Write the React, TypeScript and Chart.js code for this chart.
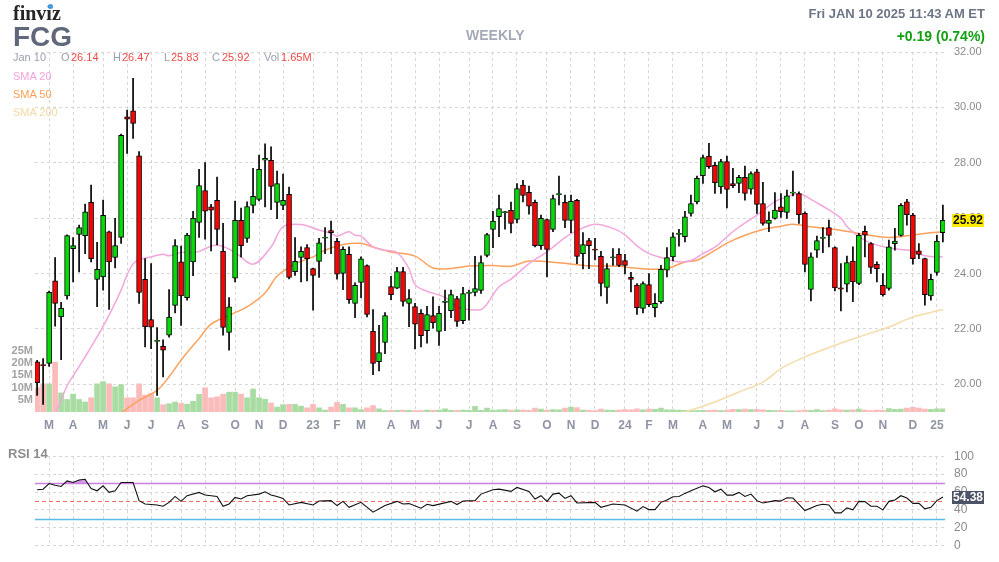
import React, { useEffect, useRef } from "react";
import { Chart, registerables } from "chart.js";

Chart.register(...registerables);

const FONT = '"Liberation Sans", Arial, Helvetica, sans-serif';

// ---- weekly candles (week index 0 = Feb 14 2022 ... 151 = Jan 6 2025) ----
const opens = [
  20.81, 20.71, 20.75, 23.74, 22.43, 23.19, 24.90, 25.41, 25.37, 26.57,
  23.79, 23.88, 25.51, 24.58, 25.30, 29.66, 29.88, 28.25, 23.79, 22.34,
  21.55, 21.37, 21.77, 22.85, 24.42, 23.13, 24.42, 25.85, 27.00, 26.41,
  26.64, 24.80, 21.87, 23.83, 25.92, 25.27, 26.46, 26.68, 28.09, 28.09,
  26.57, 26.46, 26.86, 24.07, 24.58, 24.94, 24.18, 24.44, 25.28, 25.55,
  25.16, 24.00, 24.69, 22.92, 23.68, 24.29, 21.91, 20.82, 21.51, 23.53,
  23.47, 24.07, 22.92, 22.81, 22.56, 21.94, 22.48, 21.91, 22.96, 22.66,
  23.10, 22.30, 23.28, 23.32, 23.39, 24.65, 25.59, 26.05, 26.20, 26.28,
  25.95, 27.19, 26.93, 26.57, 25.01, 25.95, 25.59, 26.85, 26.57, 25.92,
  26.64, 24.72, 25.19, 24.88, 24.62, 23.50, 24.56, 24.69, 24.47, 23.86,
  23.58, 22.74, 23.60, 22.77, 22.98, 24.12, 24.60, 25.41, 25.33, 26.17,
  26.59, 27.53, 28.24, 27.91, 27.13, 28.04, 27.25, 27.25, 27.47, 27.05,
  27.67, 26.53, 25.81, 25.99, 26.41, 26.21, 26.90, 26.89, 26.17, 23.43,
  24.84, 25.27, 25.66, 24.94, 23.48, 23.62, 24.45, 23.64, 25.52, 25.08,
  24.33, 23.57, 23.46, 25.08, 25.38, 26.59, 26.11, 24.82, 24.54, 23.19,
  24.04, 25.48,
];
const highs = [
  20.87, 20.93, 23.37, 24.58, 22.96, 25.40, 25.30, 25.75, 26.51, 27.19,
  25.13, 26.65, 25.53, 25.99, 29.04, 29.90, 31.05, 28.40, 24.54, 24.36,
  22.05, 21.61, 23.42, 25.23, 24.99, 25.45, 26.25, 27.76, 28.01, 26.50,
  27.48, 25.81, 23.13, 26.62, 26.36, 26.59, 27.80, 28.28, 28.68, 28.58,
  27.70, 27.59, 27.12, 25.30, 24.96, 25.05, 24.20, 25.27, 25.66, 25.89,
  25.27, 24.96, 24.96, 23.66, 24.60, 24.31, 22.70, 22.13, 22.59, 23.90,
  24.22, 24.22, 23.42, 22.92, 22.70, 22.82, 23.16, 22.82, 23.40, 23.40,
  23.18, 23.50, 23.40, 24.62, 24.64, 25.45, 26.25, 26.83, 26.25, 26.58,
  27.25, 27.37, 27.16, 26.65, 26.11, 25.97, 26.83, 27.52, 26.83, 26.83,
  26.68, 25.48, 25.27, 25.27, 24.80, 24.36, 24.90, 24.90, 24.69, 24.04,
  23.64, 23.70, 24.00, 23.28, 24.30, 24.94, 25.47, 25.60, 26.25, 26.83,
  27.52, 28.28, 28.70, 28.02, 28.12, 28.24, 27.80, 27.55, 27.88, 27.67,
  27.76, 27.29, 26.23, 26.92, 26.89, 27.01, 27.70, 26.95, 26.23, 24.75,
  25.35, 25.66, 25.93, 24.96, 24.36, 24.63, 24.96, 25.45, 25.71, 25.12,
  24.42, 24.00, 25.21, 25.63, 26.53, 26.68, 26.17, 25.08, 24.56, 23.97,
  25.38, 26.47,
];
const lows = [
  19.60, 19.27, 20.65, 22.10, 20.89, 23.07, 23.70, 24.06, 24.72, 24.42,
  22.80, 23.40, 22.70, 24.20, 25.09, 28.34, 28.88, 22.92, 21.35, 21.29,
  19.60, 20.27, 21.70, 22.58, 22.13, 23.04, 23.92, 25.30, 25.24, 24.82,
  25.03, 21.77, 21.23, 23.70, 24.60, 25.12, 26.19, 26.62, 26.41, 26.31,
  25.98, 26.31, 23.81, 23.93, 23.70, 23.73, 22.68, 23.86, 24.72, 24.72,
  23.80, 23.42, 22.92, 22.41, 23.13, 22.43, 20.35, 20.48, 21.11, 23.06,
  23.45, 22.82, 22.08, 21.28, 21.35, 21.49, 22.03, 21.40, 21.94, 22.41,
  22.09, 22.19, 22.32, 23.19, 23.28, 24.60, 24.93, 25.33, 25.60, 25.47,
  25.83, 26.59, 26.14, 24.96, 24.87, 23.88, 25.51, 26.48, 25.66, 25.48,
  24.36, 24.17, 24.18, 24.49, 23.19, 22.92, 24.29, 24.25, 23.99, 23.34,
  22.52, 22.58, 22.80, 22.43, 22.92, 23.88, 24.46, 24.99, 25.14, 26.07,
  26.51, 27.25, 27.80, 26.89, 26.89, 26.37, 27.10, 26.92, 26.65, 26.87,
  26.17, 25.75, 25.51, 25.96, 26.03, 25.99, 26.80, 25.81, 24.06, 23.01,
  24.58, 24.75, 24.96, 23.37, 22.65, 23.34, 22.98, 23.60, 24.60, 24.00,
  23.70, 23.18, 23.40, 24.84, 25.35, 25.75, 24.34, 24.54, 22.86, 23.04,
  23.94, 25.14,
];
const closes = [
  20.06, 20.67, 23.32, 22.92, 22.74, 25.37, 25.01, 25.66, 26.23, 24.54,
  24.15, 26.10, 24.42, 25.01, 28.99, 29.57, 29.42, 23.32, 22.08, 22.06,
  21.59, 21.23, 22.43, 25.01, 23.19, 25.39, 25.99, 27.18, 26.25, 26.29,
  25.59, 22.05, 22.80, 25.92, 25.01, 26.42, 26.79, 27.76, 28.16, 27.15,
  27.25, 26.64, 23.86, 24.44, 24.80, 24.54, 23.93, 25.11, 25.32, 25.48,
  23.98, 24.87, 23.06, 23.57, 24.53, 22.52, 20.75, 21.15, 22.48, 23.24,
  24.07, 22.99, 23.10, 22.17, 21.76, 22.52, 22.23, 22.56, 23.00, 23.24,
  22.27, 23.28, 23.32, 23.46, 24.40, 25.41, 25.89, 26.35, 26.24, 25.81,
  27.07, 26.82, 26.43, 25.01, 25.99, 24.87, 26.71, 26.89, 25.92, 26.61,
  24.62, 25.05, 25.01, 24.84, 23.64, 24.18, 24.60, 24.29, 24.29, 23.79,
  22.77, 23.64, 22.88, 22.92, 24.15, 24.58, 25.33, 25.45, 26.05, 26.53,
  27.44, 28.19, 27.86, 27.28, 28.04, 27.04, 27.17, 27.47, 26.89, 27.61,
  26.50, 25.81, 25.93, 26.29, 26.23, 26.81, 26.94, 26.13, 24.33, 24.60,
  25.19, 25.31, 25.38, 23.48, 23.44, 24.40, 23.70, 25.38, 25.39, 24.22,
  24.18, 23.24, 24.96, 25.17, 26.46, 26.13, 24.54, 24.69, 23.24, 23.79,
  25.17, 25.92,
];
// weekly volume, millions of shares
const volumes = [
  9.9, 11.5, 11.5, 20.3, 7.8, 5.1, 7.3, 5.1, 4.1, 5.8,
  11.5, 12.4, 11.5, 10.3, 11.2, 5.8, 5.8, 11.5, 6.9, 7.6,
  5.8, 3.0, 3.4, 4.1, 3.5, 3.2, 4.4, 7.2, 9.9, 5.8,
  6.2, 7.3, 8.1, 8.1, 7.3, 5.8, 9.4, 5.8, 5.2, 3.7,
  2.0, 3.0, 3.1, 3.1, 2.4, 1.7, 3.1, 1.7, 0.8, 2.0,
  3.9, 3.1, 1.7, 1.7, 1.0, 1.7, 2.6, 1.3, 0.6, 0.7,
  0.7, 0.8, 0.7, 0.6, 0.6, 0.8, 0.7, 0.8, 1.3, 0.7,
  0.7, 0.8, 0.7, 2.3, 0.7, 1.6, 0.8, 0.9, 1.0, 0.8,
  0.9, 0.8, 0.7, 1.6, 1.2, 0.8, 1.0, 0.9, 1.6, 2.0,
  1.8, 0.8, 0.7, 0.6, 1.2, 0.8, 0.7, 0.8, 1.0, 0.9,
  1.3, 0.9, 1.2, 1.1, 1.6, 0.9, 0.9, 0.8, 0.7, 0.6,
  0.6, 0.7, 0.7, 0.8, 0.6, 0.8, 1.1, 1.0, 1.2, 1.0,
  1.1, 0.9, 0.7, 0.6, 0.7, 0.5, 0.5, 0.6, 0.8, 0.7,
  1.0, 0.6, 0.8, 1.3, 0.9, 0.8, 0.9, 1.2, 0.8, 0.6,
  0.8, 0.7, 1.4, 1.1, 1.2, 1.6, 1.9, 1.6, 1.2, 1.1,
  1.3, 1.3,
];

// moving averages: [week index, value]
const sma20: [number, number][] = [
  [3, 18.9], [5, 19.95], [6, 20.3], [8, 20.99], [10, 21.71], [12, 22.5], [14, 23.4],
  [15, 23.95], [16, 24.35], [17, 24.5], [19, 24.6], [21, 24.7], [22, 24.64], [24, 24.76],
  [26, 24.75], [27, 24.8], [30, 25.03], [33, 24.76], [36, 24.34], [39, 24.96], [41, 25.69],
  [44, 25.77], [47, 25.57], [49, 25.45], [50, 25.35], [52, 25.51], [53, 25.38], [54, 25.35],
  [56, 24.96], [58, 24.84], [60, 24.76], [62, 24.18], [63, 23.6], [65, 23.36], [68, 23.14],
  [70, 22.8], [72, 22.7], [74, 22.7], [75, 22.9], [77, 23.52], [79, 23.8], [82, 24.36],
  [85, 24.78], [88, 25.3], [90, 25.55], [93, 25.78], [96, 25.63], [98, 25.4], [100, 25.0],
  [102, 24.72], [104, 24.58], [107, 24.42], [109, 24.47], [111, 24.72], [113, 24.95],
  [115, 25.33], [117, 25.68], [120, 26.11], [123, 26.6], [125, 26.77], [127, 26.89],
  [129, 26.68], [131, 26.43], [134, 26.0], [135, 25.7], [137, 25.33], [139, 25.1],
  [142, 24.92], [144, 24.87], [146, 24.82], [148, 24.64], [151, 24.6],
];
const sma50: [number, number][] = [
  [14, 18.96], [17, 19.42], [20, 19.78], [22, 20.27], [24, 20.87], [26, 21.4], [27, 21.65],
  [29, 22.17], [32, 22.49], [35, 22.8], [38, 23.3], [40, 23.9], [43, 24.35], [46, 24.6],
  [48, 24.84], [51, 25.05], [54, 25.09], [56, 24.96], [59, 24.78], [63, 24.63], [66, 24.2],
  [69, 24.18], [72, 24.27], [76, 24.29], [79, 24.26], [82, 24.45], [87, 24.39], [92, 24.28],
  [97, 24.26], [99, 24.21], [102, 24.16], [105, 24.18], [108, 24.42], [110, 24.48],
  [113, 24.84], [115, 25.1], [118, 25.38], [121, 25.59], [124, 25.71], [126, 25.78],
  [129, 25.69], [133, 25.59], [137, 25.45], [142, 25.3], [146, 25.39], [148, 25.45], [151, 25.51],
];
const sma200: [number, number][] = [
  [106, 18.9], [108, 19.0], [113, 19.36], [117, 19.72], [121, 20.08], [124, 20.57], [128, 20.99],
  [133, 21.41], [137, 21.71], [142, 22.07], [146, 22.43], [151, 22.7],
];

// RSI(14): [week index, value]
const rsi14: [number, number][] = [
  [0, 62.5], [1, 63.2], [2, 69.5], [3, 67.6], [4, 66.2], [5, 72.4], [6, 70.6], [7, 73.5],
  [8, 74.3], [9, 64.0], [10, 61.4], [11, 66.9], [12, 59.6], [13, 61.4], [14, 70.6], [16, 70.6],
  [17, 50.4], [18, 46.7], [20, 45.6], [21, 44.1], [22, 48.5], [23, 55.1], [24, 49.6], [25, 55.9],
  [27, 59.6], [28, 56.6], [30, 55.1], [31, 44.1], [32, 46.7], [33, 54.0], [34, 52.2], [35, 55.9],
  [37, 57.7], [38, 60.3], [39, 56.6], [40, 55.1], [41, 52.9], [42, 45.6], [44, 48.5], [46, 45.6],
  [47, 50.0], [49, 50.4], [50, 44.9], [51, 49.6], [52, 43.0], [54, 48.5], [56, 37.5], [58, 44.9],
  [60, 49.6], [61, 46.7], [62, 47.1], [64, 41.9], [65, 46.3], [66, 44.9], [69, 49.6], [70, 46.0],
  [71, 50.0], [73, 50.4], [74, 57.7], [76, 62.5], [77, 63.2], [79, 60.7], [80, 65.1], [82, 60.7],
  [83, 52.2], [84, 55.9], [85, 49.6], [86, 57.7], [87, 58.8], [88, 52.9], [89, 55.9], [90, 47.8],
  [93, 48.5], [94, 43.0], [96, 46.7], [98, 45.6], [100, 38.6], [101, 43.8], [102, 40.4],
  [103, 40.4], [104, 48.5], [105, 51.1], [106, 54.8], [107, 55.1], [108, 58.5], [109, 61.4],
  [111, 66.9], [112, 65.1], [113, 60.3], [114, 63.2], [115, 56.6], [116, 56.6], [117, 59.6],
  [118, 55.1], [119, 57.7], [120, 50.4], [121, 47.8], [123, 50.4], [124, 50.0], [125, 53.7],
  [126, 53.3], [128, 39.3], [130, 44.9], [131, 46.3], [132, 45.6], [133, 36.8], [134, 36.8],
  [135, 42.3], [136, 40.1], [137, 49.6], [138, 49.3], [139, 44.1], [140, 44.1], [141, 40.1],
  [142, 49.6], [143, 51.1], [144, 55.9], [145, 53.3], [146, 47.4], [147, 47.4], [148, 41.2],
  [149, 43.0], [150, 50.4], [151, 54.38],
];

// axis ticks
const monthTicks: [number, string][] = [
  [2, "M"], [6, "A"], [11, "M"], [15, "J"], [19, "J"], [24, "A"], [28, "S"], [33, "O"],
  [37, "N"], [41, "D"], [46, "23"], [50, "F"], [54, "M"], [59, "A"], [63, "M"], [67, "J"],
  [72, "J"], [76, "A"], [80, "S"], [85, "O"], [89, "N"], [93, "D"], [98, "24"], [102, "F"],
  [106, "M"], [111, "A"], [115, "M"], [120, "J"], [124, "J"], [128, "A"], [133, "S"],
  [137, "O"], [141, "N"], [146, "D"], [150, "25"],
];
const priceTicks = [20, 22, 24, 26, 28, 30, 32];
const volumeTicks = [5, 10, 15, 20, 25];
const rsiGridTicks = [0, 10, 20, 30, 40, 50, 60, 70, 80, 90, 100];
const rsiLabelTicks = [0, 20, 40, 60, 80, 100];
const rsiLevels = { overbought: 70, mid: 50, oversold: 30 };

const GREEN = "#00dd00";
const RED = "#ff0000";
const GREEN_VOL = "#a9dca2";
const RED_VOL = "#fabbbb";
const GRID = "#d6d6d6";
const X_MIN = -0.35;
const X_MAX = 151.35;

const monthLabel = new Map(monthTicks);

function valueBox(id: string, scaleId: string, value: number, text: string, bg: string, fg: string) {
  return {
    id,
    afterDraw(chart: any) {
      const s = chart.scales[scaleId];
      const y = s.getPixelForValue(value);
      const ctx = chart.ctx;
      ctx.save();
      const x = chart.chartArea.right + 7;
      ctx.fillStyle = bg;
      ctx.fillRect(x, Math.round(y - 6.5), 32, 13);
      ctx.fillStyle = fg;
      ctx.font = "bold 12px " + FONT;
      ctx.textAlign = "center";
      ctx.textBaseline = "middle";
      ctx.fillText(text, x + 16, y + 0.5);
      ctx.restore();
    },
  };
}

const rsiLinesPlugin = {
  id: "rsiLines",
  beforeDatasetsDraw(chart: any) {
    const { ctx, chartArea } = chart;
    const y = chart.scales.y;
    const draw = (v: number, color: string, dash: number[], w: number) => {
      const py = Math.round(y.getPixelForValue(v)) + 0.5;
      ctx.save();
      ctx.strokeStyle = color;
      ctx.lineWidth = w;
      ctx.setLineDash(dash);
      ctx.beginPath();
      ctx.moveTo(chartArea.left, py);
      ctx.lineTo(chartArea.right, py);
      ctx.stroke();
      ctx.restore();
    };
    draw(rsiLevels.overbought, "#cc7fe0", [], 1.3);
    draw(rsiLevels.mid, "#ff6a6a", [4, 3], 1);
    draw(rsiLevels.oversold, "#5bbbe8", [], 1.3);
  },
};

export default function App() {
  const mainRef = useRef<HTMLCanvasElement>(null);
  const rsiRef = useRef<HTMLCanvasElement>(null);

  useEffect(() => {
    Chart.defaults.font.family = FONT;
    const n = closes.length;
    const isUp = closes.map((c, i) => c >= opens[i]);
    const xScale = (showLabels: boolean) => ({
      type: "linear" as const,
      min: X_MIN,
      max: X_MAX,
      offset: false,
      afterBuildTicks: (s: any) => {
        s.ticks = monthTicks.map(([i]) => ({ value: i }));
      },
      afterFit: (s: any) => {
        s.height = showLabels ? 28 : 0;
      },
      ticks: {
        display: showLabels,
        autoSkip: false,
        maxRotation: 0,
        padding: 6,
        color: "#8e94a2",
        font: { size: 12, weight: "bold" as const },
        callback: (v: any) => monthLabel.get(Number(v)) ?? "",
      },
      grid: { color: GRID, drawTicks: false, lineWidth: 1, offset: false },
      border: { display: false, dash: [3, 3] },
    });

    const main = new Chart(mainRef.current!, {
      type: "bar",
      data: {
        datasets: [
          {
            type: "bar",
            data: opens.map((o, i) => ({ x: i, y: [o, closes[i]] })) as any,
            backgroundColor: isUp.map((u) => (u ? GREEN : RED)),
            borderColor: "#000",
            borderWidth: 1,
            borderSkipped: false,
            barThickness: 5,
            grouped: false,
            yAxisID: "y",
          },
          {
            type: "bar",
            data: lows.map((l, i) => ({ x: i, y: [l, highs[i]] })) as any,
            backgroundColor: "#000",
            borderWidth: 0,
            barThickness: 1,
            grouped: false,
            yAxisID: "y",
          },
          {
            type: "line",
            data: sma20.map(([i, v]) => ({ x: i, y: v })),
            borderColor: "#f2a6dc",
            borderWidth: 1.5,
            pointRadius: 0,
            tension: 0.35,
            yAxisID: "y",
          },
          {
            type: "line",
            data: sma50.map(([i, v]) => ({ x: i, y: v })),
            borderColor: "#ffa05c",
            borderWidth: 1.5,
            pointRadius: 0,
            tension: 0.35,
            yAxisID: "y",
          },
          {
            type: "line",
            data: sma200.map(([i, v]) => ({ x: i, y: v })),
            borderColor: "#f5dcaa",
            borderWidth: 1.5,
            pointRadius: 0,
            tension: 0.35,
            yAxisID: "y",
          },
          {
            type: "bar",
            data: volumes.map((v, i) => ({ x: i, y: v })),
            backgroundColor: isUp.map((u) => (u ? GREEN_VOL : RED_VOL)),
            borderWidth: 0,
            barThickness: 5,
            grouped: false,
            yAxisID: "yv",
          },
        ],
      },
      options: {
        responsive: false,
        animation: false,
        events: [],
        layout: { padding: { top: 52, left: 0, right: 0, bottom: 0 } },
        plugins: { legend: { display: false }, tooltip: { enabled: false } },
        scales: {
          x: xScale(true) as any,
          y: {
            type: "linear",
            position: "right",
            min: 19,
            max: 32,
            afterBuildTicks: (s: any) => {
              s.ticks = priceTicks.map((v) => ({ value: v }));
            },
            afterFit: (s: any) => {
              s.width = 54;
            },
            ticks: {
              padding: 9,
              color: "#8a8a8a",
              font: { size: 11 },
              callback: (v: any) => Number(v).toFixed(2),
            },
            grid: { color: GRID, drawTicks: false },
            border: { display: false, dash: [3, 3] },
          },
          yv: {
            type: "linear",
            position: "left",
            min: 0,
            max: 147,
            afterBuildTicks: (s: any) => {
              s.ticks = volumeTicks.map((v) => ({ value: v }));
            },
            afterFit: (s: any) => {
              s.width = 35;
            },
            ticks: {
              padding: 2,
              color: "#a2a2a2",
              font: { size: 11, weight: "bold" },
              callback: (v: any) => v + "M",
            },
            grid: { display: false, drawTicks: false },
            border: { display: false },
          },
        },
      },
      plugins: [
        valueBox("lastPrice", "y", closes[n - 1], closes[n - 1].toFixed(2), "#ffec00", "#111"),
      ],
    });

    const lastRsi = rsi14[rsi14.length - 1][1];
    const rsi = new Chart(rsiRef.current!, {
      type: "line",
      data: {
        datasets: [
          {
            data: rsi14.map(([i, v]) => ({ x: i, y: v })),
            borderColor: "#111",
            borderWidth: 1.1,
            pointRadius: 0,
            tension: 0,
            fill: { target: { value: rsiLevels.overbought }, above: "rgba(200,120,225,0.75)", below: "rgba(0,0,0,0)" },
          },
        ],
      },
      options: {
        responsive: false,
        animation: false,
        events: [],
        layout: { padding: { top: 15.5, left: 35, right: 0, bottom: 15.5 } },
        plugins: { legend: { display: false }, tooltip: { enabled: false } },
        scales: {
          x: xScale(false) as any,
          y: {
            type: "linear",
            position: "right",
            min: 0,
            max: 100,
            afterBuildTicks: (s: any) => {
              s.ticks = rsiGridTicks.map((v) => ({ value: v }));
            },
            afterFit: (s: any) => {
              s.width = 54;
            },
            ticks: {
              padding: 9,
              color: "#8a8a8a",
              font: { size: 12 },
              callback: (v: any) => (rsiLabelTicks.includes(Number(v)) ? String(v) : ""),
            },
            grid: { color: GRID, drawTicks: false },
            border: { display: false, dash: [3, 3] },
          },
        },
      },
      plugins: [
        rsiLinesPlugin,
        valueBox("lastRsi", "y", lastRsi, lastRsi.toFixed(2), "#4d5366", "#ffffff"),
      ],
    });

    return () => {
      main.destroy();
      rsi.destroy();
    };
  }, []);

  const abs = (left: number, top: number, size: number, color: string, extra: React.CSSProperties = {}) =>
    ({
      position: "absolute",
      left,
      top,
      fontSize: size,
      lineHeight: `${size}px`,
      color,
      whiteSpace: "nowrap",
      ...extra,
    }) as React.CSSProperties;

  const lab = "#9aa0ad";
  const val = "#f04848";

  return (
    <div
      style={{
        position: "absolute",
        left: 0,
        top: 0,
        width: 999,
        height: 562,
        background: "#fff",
        overflow: "hidden",
        fontFamily: FONT,
      }}
    >
      <canvas ref={mainRef} width={999} height={440} style={{ position: "absolute", left: 0, top: 0 }} />
      <canvas ref={rsiRef} width={999} height={122} style={{ position: "absolute", left: 0, top: 440 }} />

      <div style={abs(13, 3, 20, "#262626", { fontWeight: "bold", fontFamily: '"Liberation Serif", "DejaVu Serif", serif' })}>
        finviz
      </div>
      <div
        style={{ position: "absolute", left: 48, top: 4, width: 5, height: 5, borderRadius: 3, background: "#3f9be8" }}
      />
      <div style={abs(13, 23, 28, "#5f6778", { fontWeight: "bold" })}>FCG</div>
      <div style={abs(466, 28, 14, "#a4aab8", { fontWeight: "bold" })}>WEEKLY</div>
      <div style={abs(0, 6.5, 13, "#6d7486", { fontWeight: "bold", left: "auto", right: 14 })}>
        Fri JAN 10 2025 11:43 AM ET
      </div>
      <div style={abs(0, 29, 14, "#12a012", { fontWeight: "bold", left: "auto", right: 14 })}>
        +0.19 (0.74%)
      </div>

      <div style={abs(13, 52, 11, lab)}>Jan 10</div>
      <div style={abs(61, 52, 11, lab)}>O</div>
      <div style={abs(71, 52, 11, val)}>26.14</div>
      <div style={abs(113, 52, 11, lab)}>H</div>
      <div style={abs(122, 52, 11, val)}>26.47</div>
      <div style={abs(164, 52, 11, lab)}>L</div>
      <div style={abs(171, 52, 11, val)}>25.83</div>
      <div style={abs(212, 52, 11, lab)}>C</div>
      <div style={abs(222, 52, 11, val)}>25.92</div>
      <div style={abs(264, 52, 11, lab)}>Vol</div>
      <div style={abs(281, 52, 11, val)}>1.65M</div>

      <div style={abs(13, 70.5, 11, "#f2a3db")}>SMA 20</div>
      <div style={abs(13, 88.5, 11, "#ff9f55")}>SMA 50</div>
      <div style={abs(13, 106.5, 11, "#f4d9a4")}>SMA 200</div>

      <div style={abs(8, 446.5, 13, "#8c8c8c", { fontWeight: "bold" })}>RSI 14</div>
    </div>
  );
}
